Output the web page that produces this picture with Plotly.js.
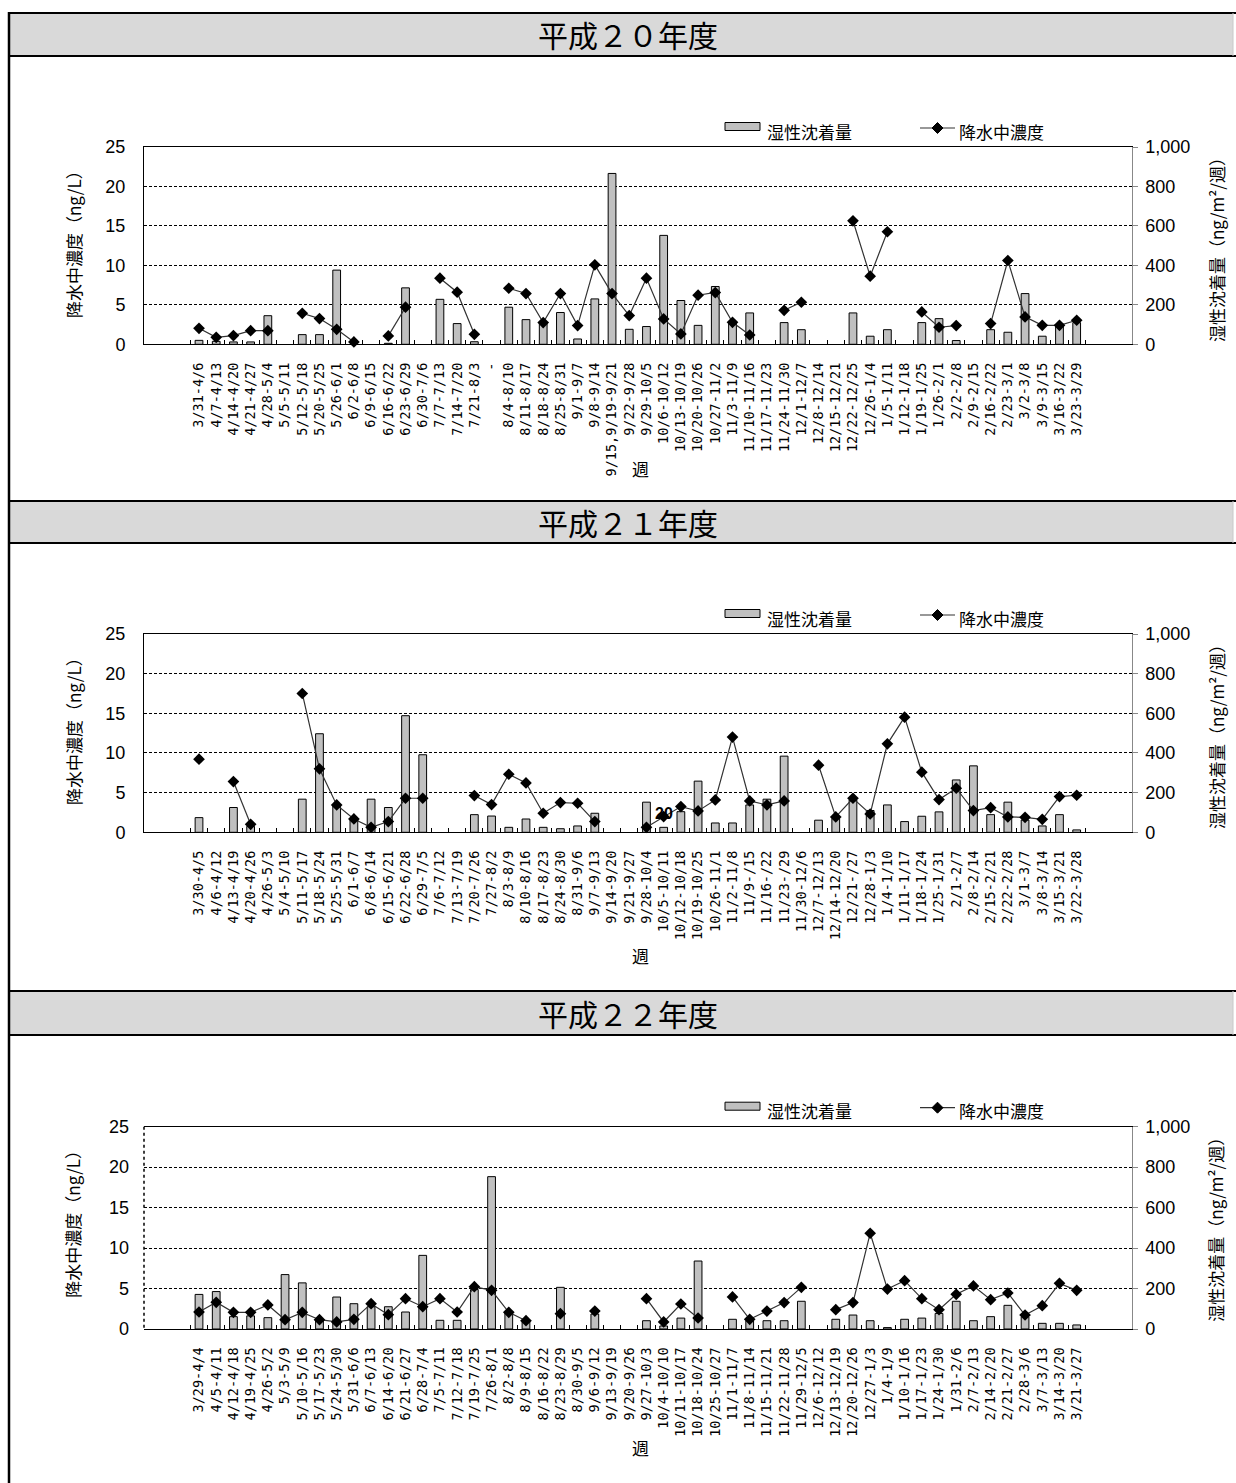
<!DOCTYPE html>
<html><head><meta charset="utf-8">
<script src="https://cdn.plot.ly/plotly-3.0.1.min.js"></script>
<style>html,body{margin:0;padding:0;background:#fff}</style>
</head><body><div id="chart" style="width:1236px;height:1483px"></div>
<script>
// ---------- data ----------
const weeks20 = ['3/31-4/6','4/7-4/13','4/14-4/20','4/21-4/27','4/28-5/4','5/5-5/11','5/12-5/18','5/20-5/25','5/26-6/1','6/2-6/8','6/9-6/15','6/16-6/22','6/23-6/29','6/30-7/6','7/7-7/13','7/14-7/20','7/21-8/3','-','8/4-8/10','8/11-8/17','8/18-8/24','8/25-8/31','9/1-9/7','9/8-9/14','9/15,9/19-9/21','9/22-9/28','9/29-10/5','10/6-10/12','10/13-10/19','10/20-10/26','10/27-11/2','11/3-11/9','11/10-11/16','11/17-11/23','11/24-11/30','12/1-12/7','12/8-12/14','12/15-12/21','12/22-12/25','12/26-1/4','1/5-1/11','1/12-1/18','1/19-1/25','1/26-2/1','2/2-2/8','2/9-2/15','2/16-2/22','2/23-3/1','3/2-3/8','3/9-3/15','3/16-3/22','3/23-3/29'];
const dep20 = [20,15,12,12,145,null,49,49,376,null,null,5,286,null,228,105,13,null,188,125,110,161,27,230,866,76,90,552,222,96,293,110,159,null,110,74,null,null,159,41,74,null,110,130,19,null,74,61,257,41,95,110];
const conc20 = [2.03,0.89,1.1,1.73,1.73,null,3.93,3.26,1.9,0.3,null,1.06,4.7,null,8.38,6.6,1.27,null,7.1,6.43,2.75,6.43,2.37,10.07,6.43,3.64,8.38,3.21,1.31,6.22,6.56,2.79,1.18,null,4.31,5.33,null,null,15.65,8.63,14.26,null,4.1,2.16,2.37,null,2.62,10.62,3.47,2.41,2.41,3.05];

const weeks21 = ['3/30-4/5','4/6-4/12','4/13-4/19','4/20-4/26','4/26-5/3','5/4-5/10','5/11-5/17','5/18-5/24','5/25-5/31','6/1-6/7','6/8-6/14','6/15-6/21','6/22-6/28','6/29-7/5','7/6-7/12','7/13-7/19','7/20-7/26','7/27-8/2','8/3-8/9','8/10-8/16','8/17-8/23','8/24-8/30','8/31-9/6','9/7-9/13','9/14-9/20','9/21-9/27','9/28-10/4','10/5-10/11','10/12-10/18','10/19-10/25','10/26-11/1','11/2-11/8','11/9-/15','11/16-/22','11/23-/29','11/30-12/6','12/7-12/13','12/14-12/20','12/21-/27','12/28-1/3','1/4-1/10','1/11-1/17','1/18-1/24','1/25-1/31','2/1-2/7','2/8-2/14','2/15-2/21','2/22-2/28','3/1-3/7','3/8-3/14','3/15-3/21','3/22-3/28'];
const dep21 = [74,null,125,30,null,null,167,497,138,66,167,125,588,391,null,null,89,82,25,67,25,18,32,96,null,null,152,25,104,258,47,47,138,167,384,null,61,70,163,110,138,54,81,103,264,335,89,152,62,32,89,12];
const conc21 = [9.22,null,6.4,1.01,null,null,17.5,8.0,3.45,1.68,0.63,1.35,4.29,4.29,null,null,4.63,3.49,7.32,6.23,2.4,3.75,3.66,1.35,null,null,0.63,1.98,3.24,2.69,4.08,12.0,3.96,3.45,3.96,null,8.46,1.94,4.29,2.31,11.15,14.52,7.58,4.12,5.56,2.74,3.11,1.94,1.89,1.64,4.5,4.67];

const weeks22 = ['3/29-4/4','4/5-4/11','4/12-4/18','4/19-4/25','4/26-5/2','5/3-5/9','5/10-5/16','5/17-5/23','5/24-5/30','5/31-6/6','6/7-6/13','6/14-6/20','6/21-6/27','6/28-7/4','7/5-7/11','7/12-7/18','7/19-7/25','7/26-8/1','8/2-8/8','8/9-8/15','8/16-8/22','8/23-8/29','8/30-9/5','9/6-9/12','9/13-9/19','9/20-9/26','9/27-10/3','10/4-10/10','10/11-10/17','10/18-10/24','10/25-10/27','11/1-11/7','11/8-11/14','11/15-11/21','11/22-11/28','11/29-12/5','12/6-12/12','12/13-12/19','12/20-12/26','12/27-1/3','1/4-1/9','1/10-1/16','1/17-1/23','1/24-1/30','1/31-2/6','2/7-2/13','2/14-2/20','2/21-2/27','2/28-3/6','3/7-3/13','3/14-3/20','3/21-3/27'];
const dep22 = [171,185,61,65,56,269,228,45,158,125,110,110,84,364,43,43,195,753,86,36,null,206,null,74,null,null,41,15,54,336,null,48,41,41,41,137,null,48,69,41,7,48,54,77,137,41,61,117,61,28,28,20];
const conc22 = [2.1,3.3,2.06,2.06,2.97,1.15,2.06,1.15,0.87,1.19,3.13,1.77,3.75,2.76,3.75,2.1,5.23,4.78,2.06,1.03,null,1.9,null,2.22,null,null,3.75,0.87,3.09,1.36,null,3.96,1.19,2.22,3.26,5.15,null,2.39,3.26,11.83,4.94,5.97,3.75,2.39,4.29,5.32,3.63,4.45,1.73,2.88,5.64,4.78];

const headerTitles = ['平成２０年度','平成２１年度','平成２２年度'];
const barName = '湿性沈着量';
const lineName = '降水中濃度';
const leftTitle = '降水中濃度（ng/L）';
const rightTitle = '湿性沈着量（ng/m²/週）';
const xTitle = '週';
const rightTicks = [0,200,400,600,800,1000];
const leftTicks = [0,5,10,15,20,25];

// ---------- layout helpers ----------
const W = 1236, H = 1483;
const px = v => v / W, py = v => 1 - v / H;
const CJK = '"Noto Sans CJK JP", "Noto Sans", sans-serif';
const NUM = '"Liberation Sans", Arial, sans-serif';
const CAT = '"DejaVu Sans Mono", monospace';

const panels = [
  {cats: weeks20, dep: dep20, conc: conc20, hdr: [13, 56], top: 147, bot: 344.3},
  {cats: weeks21, dep: dep21, conc: conc21, hdr: [501, 543], top: 634, bot: 832.3},
  {cats: weeks22, dep: dep22, conc: conc22, hdr: [991, 1035], top: 1126.7, bot: 1329}
];

const traces = [];
const layout = {
  width: W, height: H,
  margin: {l: 0, r: 0, t: 0, b: 0},
  paper_bgcolor: '#fff', plot_bgcolor: '#fff',
  showlegend: false,
  bargap: 0.55,
  font: {family: NUM, color: '#000'},
  shapes: [], annotations: []
};

panels.forEach((p, i) => {
  const xid = i === 0 ? 'x' : 'x' + (i + 1);
  const xname = i === 0 ? 'xaxis' : 'xaxis' + (i + 1);
  const ybIdx = 2 * i + 1, yoIdx = 2 * i + 2;
  const ybid = ybIdx === 1 ? 'y' : 'y' + ybIdx;
  const ybname = ybIdx === 1 ? 'yaxis' : 'yaxis' + ybIdx;
  const yoid = 'y' + yoIdx, yoname = 'yaxis' + yoIdx;

  layout[xname] = {
    domain: [px(144), px(1131.7)], anchor: ybid,
    type: 'category', categoryorder: 'array', categoryarray: p.cats,
    tickangle: -90, ticks: 'inside', tickson: 'boundaries', ticklen: 4,
    tickcolor: '#000', showline: true, linecolor: '#000', linewidth: 1, mirror: true,
    showgrid: false, zeroline: false,
    tickfont: {family: CAT, size: 13.5, color: '#000'},
    ticklabelstandoff: 12, fixedrange: true
  };
  layout[ybname] = {
    domain: [py(p.bot), py(p.top)], anchor: xid, side: 'right',
    range: [0, 1000], tickvals: rightTicks, tickformat: ',d',
    showgrid: true, gridcolor: '#000', gridwidth: 1, griddash: '3px,2px',
    zeroline: false, showline: true, linecolor: '#888', linewidth: 1,
    ticks: 'outside', ticklen: 5, tickcolor: '#888',
    tickfont: {family: NUM, size: 18, color: '#000'},
    ticklabelstandoff: 4, fixedrange: true
  };
  layout[yoname] = {
    overlaying: ybid, anchor: xid, side: 'left',
    range: [0, 25], tickvals: leftTicks,
    showgrid: false, zeroline: false,
    showline: i < 2, linecolor: '#000', linewidth: 1, ticks: '',
    tickfont: {family: NUM, size: 18, color: '#000'},
    ticklabelstandoff: 14, fixedrange: true
  };

  traces.push({
    type: 'bar', name: barName, x: p.cats, y: p.dep, xaxis: xid, yaxis: ybid,
    marker: {color: '#c0c0c0', line: {color: '#000', width: 1}},
    hoverinfo: 'skip'
  });
  traces.push({
    type: 'scatter', mode: 'lines+markers', name: lineName, x: p.cats, y: p.conc,
    xaxis: xid, yaxis: yoid, connectgaps: false, cliponaxis: false,
    line: {color: '#333', width: 1.2},
    marker: {symbol: 'diamond', size: 9, color: '#000'},
    hoverinfo: 'skip'
  });

  // header band
  layout.shapes.push({type: 'rect', xref: 'paper', yref: 'paper', layer: 'below',
    x0: px(9), x1: px(1233), y0: py(p.hdr[1]), y1: py(p.hdr[0]),
    fillcolor: '#d9d9d9', line: {width: 0}});
  [p.hdr[0], p.hdr[1]].forEach(yy => layout.shapes.push({type: 'line', xref: 'paper', yref: 'paper',
    x0: px(8), x1: px(1236), y0: py(yy), y1: py(yy), line: {color: '#000', width: 2}}));
  layout.shapes.push({type: 'line', xref: 'paper', yref: 'paper',
    x0: px(1233), x1: px(1233), y0: py(p.hdr[0]), y1: py(p.hdr[1]), line: {color: '#c8c8c8', width: 1}});
  layout.annotations.push({xref: 'paper', yref: 'paper', x: px(628), y: py((p.hdr[0] + p.hdr[1]) / 2),
    xanchor: 'center', yanchor: 'middle', showarrow: false, text: headerTitles[i],
    font: {family: CJK, size: 30, color: '#000'}});

  // legend
  const ly = p.top - 16;
  layout.shapes.push({type: 'rect', xref: 'paper', yref: 'paper',
    x0: px(725), x1: px(760), y0: py(ly - 0.5), y1: py(ly - 8.5),
    fillcolor: '#c0c0c0', line: {color: '#000', width: 1}});
  layout.annotations.push({xref: 'paper', yref: 'paper', x: px(765), y: py(ly), xanchor: 'left', yanchor: 'middle',
    showarrow: false, text: barName, font: {family: CJK, size: 17, color: '#000'}});
  layout.shapes.push({type: 'line', xref: 'paper', yref: 'paper',
    x0: px(920), x1: px(955), y0: py(ly - 3), y1: py(ly - 3), line: {color: '#333', width: 1.2}});
  const cx = 937.5, cy = ly - 3, r = 5.5;
  layout.shapes.push({type: 'path', xref: 'paper', yref: 'paper',
    path: `M ${px(cx)},${py(cy - r)} L ${px(cx + r)},${py(cy)} L ${px(cx)},${py(cy + r)} L ${px(cx - r)},${py(cy)} Z`,
    fillcolor: '#000', line: {color: '#000', width: 1}});
  layout.annotations.push({xref: 'paper', yref: 'paper', x: px(957), y: py(ly), xanchor: 'left', yanchor: 'middle',
    showarrow: false, text: lineName, font: {family: CJK, size: 17, color: '#000'}});

  // axis titles
  layout.annotations.push({xref: 'paper', yref: 'paper', x: px(73), y: py(p.top + 93), textangle: -90,
    xanchor: 'center', yanchor: 'middle', showarrow: false, text: leftTitle,
    font: {family: CJK, size: 17, color: '#000'}});
  layout.annotations.push({xref: 'paper', yref: 'paper', x: px(1216), y: py(p.top + 99), textangle: -90,
    xanchor: 'center', yanchor: 'middle', showarrow: false, text: rightTitle,
    font: {family: CJK, size: 17, color: '#000'}});
  layout.annotations.push({xref: 'paper', yref: 'paper', x: px(640), y: py(p.top + 321),
    xanchor: 'center', yanchor: 'middle', showarrow: false, text: xTitle,
    font: {family: CJK, size: 17, color: '#000'}});
});

// stray data label in 平成21年度
layout.annotations.push({xref: 'x2', yref: 'y4', x: '10/5-10/11', y: 2.4, xanchor: 'center', yanchor: 'middle',
  showarrow: false, text: '<b>20</b>', font: {family: NUM, size: 16, color: '#000'}});

// dotted left axis of 平成22年度
layout.shapes.push({type: 'line', xref: 'paper', yref: 'paper', x0: px(144), x1: px(144),
  y0: py(1126.7), y1: py(1329), line: {color: '#000', width: 1.5, dash: 'dot'}});

// table left border
layout.shapes.push({type: 'line', xref: 'paper', yref: 'paper', x0: px(9), x1: px(9),
  y0: py(12), y1: py(1483), line: {color: '#000', width: 2.5}});

Plotly.newPlot('chart', traces, layout, {displayModeBar: false, staticPlot: true});
</script>
</body></html>
